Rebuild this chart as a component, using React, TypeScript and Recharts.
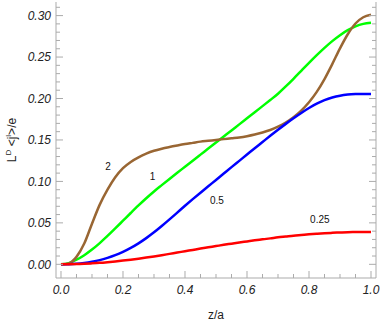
import { LineChart, Line, XAxis, YAxis, ReferenceDot } from "recharts";

// z/a sample positions (every 0.025)
const zValues = [
  0, 0.025, 0.05, 0.075, 0.1, 0.125, 0.15, 0.175, 0.2, 0.225, 0.25, 0.275, 0.3,
  0.325, 0.35, 0.375, 0.4, 0.425, 0.45, 0.475, 0.5, 0.525, 0.55, 0.575, 0.6,
  0.625, 0.65, 0.675, 0.7, 0.725, 0.75, 0.775, 0.8, 0.825, 0.85, 0.875, 0.9,
  0.925, 0.95, 0.975, 1.0,
];

// curve labelled "2"
const curve2 = [
  0, 0.001, 0.009, 0.025, 0.049, 0.072, 0.09, 0.105, 0.116, 0.1235, 0.129,
  0.1335, 0.137, 0.1395, 0.1415, 0.1433, 0.145, 0.1465, 0.148, 0.149, 0.15,
  0.151, 0.152, 0.153, 0.1545, 0.1565, 0.159, 0.162, 0.166, 0.171, 0.1775,
  0.1855, 0.1955, 0.208, 0.2235, 0.2415, 0.2605, 0.2775, 0.2905, 0.298, 0.301,
];

// curve labelled "1"
const curve1 = [
  0, 0.0015, 0.0055, 0.011, 0.0178, 0.0256, 0.0342, 0.0433, 0.0526, 0.0619,
  0.071, 0.0797, 0.0879, 0.0955, 0.103, 0.1104, 0.1177, 0.125, 0.1323, 0.1396,
  0.1469, 0.1542, 0.1615, 0.1688, 0.1761, 0.1834, 0.1908, 0.1982, 0.2058,
  0.2146, 0.2238, 0.2334, 0.243, 0.2523, 0.2611, 0.2692, 0.2764, 0.2824,
  0.287, 0.29, 0.2914,
];

// curve labelled "0.5"
const curve05 = [
  0, 0.0001, 0.0006, 0.0016, 0.0031, 0.0051, 0.0078, 0.0111, 0.0151, 0.0198,
  0.0253, 0.0316, 0.0386, 0.0462, 0.0542, 0.0624, 0.0706, 0.0786, 0.0864,
  0.0941, 0.1018, 0.1095, 0.1172, 0.1248, 0.1324, 0.14, 0.1475, 0.155, 0.1623,
  0.1694, 0.1762, 0.1826, 0.1885, 0.1938, 0.198, 0.2012, 0.2034, 0.2047,
  0.2053, 0.2055, 0.2055,
];

// curve labelled "0.25"
const curve025 = [
  0, 0.0001, 0.0003, 0.0007, 0.0012, 0.0018, 0.0026, 0.0035, 0.0045, 0.0056,
  0.0068, 0.0081, 0.0095, 0.011, 0.0126, 0.0142, 0.0158, 0.0174, 0.019,
  0.0205, 0.022, 0.0235, 0.0249, 0.0263, 0.0276, 0.0289, 0.0301, 0.0313,
  0.0326, 0.0336, 0.0346, 0.0354, 0.0362, 0.0369, 0.0375, 0.038, 0.0384,
  0.0387, 0.0389, 0.039, 0.039,
];

const annotationText = ["2", "1", "0.5", "0.25"];
const annotationZ = [0.152, 0.295, 0.503, 0.835];
const annotationY = [0.1186, 0.1057, 0.0775, 0.0546];

const xMajor = [0, 0.2, 0.4, 0.6, 0.8, 1.0];
const yMajor = [0, 0.05, 0.1, 0.15, 0.2, 0.25, 0.3];

const xTicks = Array.from({ length: 21 }, (_, i) => +(i * 0.05).toFixed(2));
const yTicks = Array.from({ length: 32 }, (_, i) => +(i * 0.01).toFixed(2));

const data = zValues.map((z, i) => ({
  z,
  c2: curve2[i],
  c1: curve1[i],
  c05: curve05[i],
  c025: curve025[i],
}));

const FRAME = "#ababab";
const FONT = "'Liberation Sans', Arial, sans-serif";

type Side = "left" | "right" | "top" | "bottom";

function makeTick(side: Side, majors: number[], digits: number, showLabel: boolean) {
  return (props: any) => {
    const { x, y, payload } = props;
    const v = payload.value as number;
    const major = majors.some((m) => Math.abs(m - v) < 1e-6);
    const len = major ? 7 : 4;
    let x2 = x;
    let y2 = y;
    if (side === "left") x2 = x + len;
    else if (side === "right") x2 = x - len;
    else if (side === "bottom") y2 = y - len;
    else y2 = y + len;
    return (
      <g>
        <line x1={x} y1={y} x2={x2} y2={y2} stroke={FRAME} strokeWidth={1} />
        {showLabel && major && side === "left" && (
          <text x={x - 5} y={y} dy="0.36em" textAnchor="end" fontSize={12} fontStyle="italic" fill="#222" fontFamily={FONT}>
            {v.toFixed(digits)}
          </text>
        )}
        {showLabel && major && side === "bottom" && (
          <text x={x} y={y + 15.5} textAnchor="middle" fontSize={12} fontStyle="italic" fill="#222" fontFamily={FONT}>
            {v.toFixed(digits)}
          </text>
        )}
      </g>
    );
  };
}

function YTitle(props: any) {
  const vb = props.viewBox || { x: 0, y: 0, height: 0 };
  const cx = vb.x + 12;
  const cy = vb.y + vb.height / 2;
  return (
    <text x={cx} y={cy} transform={`rotate(-90 ${cx} ${cy})`} textAnchor="middle" dy="0.36em" fontSize={12} fill="#222" fontFamily={FONT}>
      L<tspan fontSize={8} dy={-5}>D</tspan>
      <tspan dy={5}> &lt;j</tspan>
      <tspan fontSize={8} dy={-5}>l</tspan>
      <tspan dy={5}>&gt;/e</tspan>
    </text>
  );
}

export default function App() {
  return (
    <div style={{ position: "absolute", left: 0, top: 0 }}>
      <LineChart width={382} height={327} data={data} margin={{ top: 2, right: 0, bottom: 0, left: 0 }}>
        <XAxis
          dataKey="z"
          type="number"
          domain={[-0.0161, 1.0161]}
          allowDataOverflow
          ticks={xTicks}
          interval={0}
          tickSize={0}
          tickMargin={0}
          height={49}
          axisLine={{ stroke: FRAME }}
          tickLine={false}
          tick={makeTick("bottom", xMajor, 1, true)}
          label={{ value: "z/a", position: "insideBottom", offset: 8, fontSize: 12, fill: "#222", fontFamily: FONT }}
        />
        <XAxis
          xAxisId="top"
          dataKey="z"
          type="number"
          orientation="top"
          domain={[-0.0161, 1.0161]}
          allowDataOverflow
          ticks={xTicks}
          interval={0}
          tickSize={0}
          tickMargin={0}
          height={0}
          axisLine={{ stroke: FRAME }}
          tickLine={false}
          tick={makeTick("top", xMajor, 1, false)}
        />
        <YAxis
          type="number"
          domain={[-0.0165, 0.3164]}
          allowDataOverflow
          ticks={yTicks}
          interval={0}
          tickSize={0}
          tickMargin={0}
          width={56}
          axisLine={{ stroke: FRAME }}
          tickLine={false}
          tick={makeTick("left", yMajor, 2, true)}
          label={{ content: <YTitle /> }}
        />
        <YAxis
          yAxisId="right"
          type="number"
          orientation="right"
          domain={[-0.0165, 0.3164]}
          allowDataOverflow
          ticks={yTicks}
          interval={0}
          tickSize={0}
          tickMargin={0}
          width={6}
          axisLine={{ stroke: FRAME }}
          tickLine={false}
          tick={makeTick("right", yMajor, 2, false)}
        />
        <Line dataKey="c1" type="monotone" stroke="#00ff00" strokeWidth={2.5} dot={false} isAnimationActive={false} />
        <Line dataKey="c2" type="monotone" stroke="#996633" strokeWidth={2.5} dot={false} isAnimationActive={false} />
        <Line dataKey="c05" type="monotone" stroke="#0000ff" strokeWidth={2.5} dot={false} isAnimationActive={false} />
        <Line dataKey="c025" type="monotone" stroke="#ff0000" strokeWidth={2.5} dot={false} isAnimationActive={false} />
        {annotationText.map((t, i) => (
          <ReferenceDot
            key={t}
            x={annotationZ[i]}
            y={annotationY[i]}
            r={0}
            fill="none"
            stroke="none"
            label={{ value: t, position: "center", fontSize: 10, fill: "#111", fontFamily: FONT }}
          />
        ))}
      </LineChart>
    </div>
  );
}
